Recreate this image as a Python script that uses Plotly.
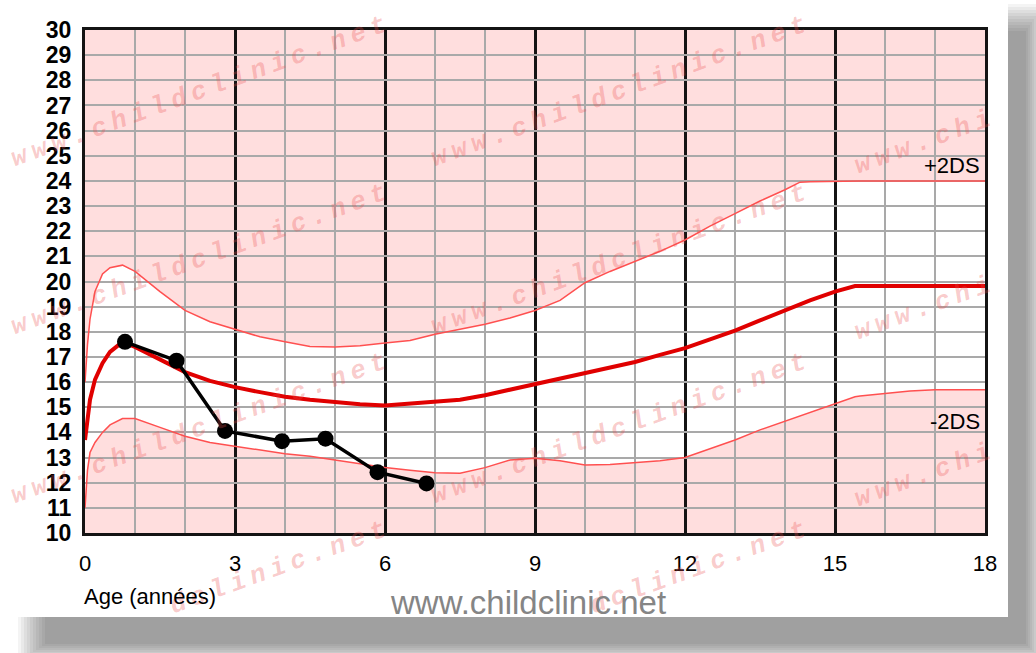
import math
import plotly.graph_objects as go

# ---------------- data ----------------
ages = [0, 0.05, 0.1, 0.2, 0.35, 0.5, 0.75, 1.0, 1.5, 2, 2.5, 3, 3.5, 4, 4.5, 5, 5.5, 6,
        6.5, 7, 7.5, 8, 8.5, 9, 9.5, 10, 10.5, 11, 11.5, 12, 12.5, 13, 13.5, 14, 14.3,
        14.5, 15, 15.4, 15.5, 16, 16.5, 17, 17.5, 18]

median = [13.7, 14.6, 15.3, 16.1, 16.75, 17.2, 17.6, 17.4, 16.9, 16.4, 16.05, 15.8, 15.6,
          15.42, 15.3, 15.2, 15.12, 15.07, 15.15, 15.22, 15.3, 15.48, 15.7, 15.9, 16.1,
          16.32, 16.55, 16.8, 17.08, 17.35, 17.7, 18.05, 18.45, 18.85, 19.08, 19.25, 19.6,
          19.82, 19.82, 19.82, 19.82, 19.82, 19.82, 19.82]

upper = [16.0, 17.5, 18.5, 19.6, 20.3, 20.55, 20.65, 20.4, 19.6, 18.85, 18.4, 18.1, 17.8,
         17.6, 17.42, 17.4, 17.45, 17.55, 17.65, 17.9, 18.1, 18.3, 18.55, 18.85, 19.25,
         19.95, 20.4, 20.8, 21.2, 21.65, 22.2, 22.7, 23.2, 23.65, 23.95, 23.97, 24.0,
         24.0, 24.0, 24.0, 24.0, 24.0, 24.0, 24.0]

lower = [11.0, 12.5, 13.2, 13.6, 14.0, 14.3, 14.55, 14.55, 14.2, 13.85, 13.6, 13.45, 13.3,
         13.15, 13.05, 12.9, 12.75, 12.6, 12.5, 12.4, 12.38, 12.6, 12.9, 12.97, 12.87,
         12.7, 12.72, 12.8, 12.87, 13.0, 13.35, 13.7, 14.1, 14.45, 14.65, 14.8, 15.15,
         15.42, 15.45, 15.55, 15.65, 15.7, 15.7, 15.7]

child_age = [0.8, 1.83, 2.8, 3.94, 4.81, 5.85, 6.83]
child_bmi = [17.6, 16.85, 14.06, 13.65, 13.75, 12.42, 11.97]

x_ticks = [0, 3, 6, 9, 12, 15, 18]
y_ticks = list(range(10, 31))

# ---------------- layout geometry ----------------
W, H = 1036, 653
ML, MR, MT, MB = 85, 51, 30, 120
PW, PH = W - ML - MR, H - MT - MB


def px2x(px):
    return (px - ML) / PW


def py2y(py):
    return (H - MB - py) / PH


fig = go.Figure()

# band between -2DS and +2DS (white), drawn below the grid
path = "M " + " L ".join(f"{a},{u}" for a, u in zip(ages, upper))
path += " L " + " L ".join(f"{a},{l}" for a, l in zip(reversed(ages), reversed(lower))) + " Z"
shapes = [dict(type="path", path=path, xref="x", yref="y", fillcolor="white",
               line=dict(width=0), layer="below")]

# soft drop shadow of the card (only the parts outside the card)
card_r, card_b = 1008, 617
for i in range(10):
    x0, y0, x1, y1 = 18 + i * 3, 4 + i * 3, 1044 - i * 2, 662 - i * 2
    col = "rgba(0,0,0,0.042)"
    shapes.append(dict(type="rect", xref="paper", yref="paper",
                       x0=px2x(max(x0, card_r)), x1=px2x(x1), y0=py2y(y0), y1=py2y(y1),
                       fillcolor=col, line=dict(width=0), layer="below"))
    shapes.append(dict(type="rect", xref="paper", yref="paper",
                       x0=px2x(x0), x1=px2x(min(x1, card_r)), y0=py2y(max(y0, card_b)), y1=py2y(y1),
                       fillcolor=col, line=dict(width=0), layer="below"))

fig.add_trace(go.Scatter(x=ages, y=upper, mode="lines", line=dict(color="#ff5050", width=1.5),
                         hoverinfo="skip", showlegend=False))
fig.add_trace(go.Scatter(x=ages, y=lower, mode="lines", line=dict(color="#ff5050", width=1.5),
                         hoverinfo="skip", showlegend=False))
fig.add_trace(go.Scatter(x=ages, y=median, mode="lines", line=dict(color="#e00000", width=4),
                         hoverinfo="skip", showlegend=False))
fig.add_trace(go.Scatter(x=child_age, y=child_bmi, mode="lines+markers",
                         line=dict(color="black", width=3.5),
                         marker=dict(color="black", size=16), showlegend=False))

annotations = []
# watermark
wm_font = dict(family="Liberation Mono", size=26, color="rgba(235,80,80,0.30)",
               style="italic", weight="bold")
ang = 20
step = 21.2
dx, dy = math.cos(math.radians(ang)), -math.sin(math.radians(ang))


def wm(text, sx, sy, first_idx, n):
    mid = first_idx + n / 2.0
    cx, cy = sx + mid * step * dx, sy + mid * step * dy
    return dict(text=f'<span style="letter-spacing:5.6px">{text}</span>',
                x=px2x(cx), y=py2y(cy), xref="paper", yref="paper",
                xanchor="center", yanchor="middle",
                showarrow=False, textangle=-ang, font=wm_font)


full = "www.childclinic.net"
for sx in (12, 432):
    for sy in (160, 328, 497):
        annotations.append(wm(full, sx, sy, 0, len(full)))
    annotations.append(wm(full[8:], sx, 665, 8, len(full) - 8))
for sy in (167, 333, 500):
    annotations.append(wm(full[:7], 855, sy, 0, 7))

annotations += [
    dict(text="+2DS", x=17.93, y=24.62, xref="x", yref="y", xanchor="right", yanchor="middle",
         showarrow=False, font=dict(family="Liberation Sans", size=22, color="black")),
    dict(text="-2DS", x=17.93, y=14.45, xref="x", yref="y", xanchor="right", yanchor="middle",
         showarrow=False, font=dict(family="Liberation Sans", size=22, color="black")),
    dict(text="Age (années)", x=px2x(82), y=py2y(596), xref="paper", yref="paper",
         xanchor="left", yanchor="middle", showarrow=False,
         font=dict(family="Liberation Sans", size=22, color="black")),
    dict(text="www.childclinic.net", x=px2x(528), y=py2y(602), xref="paper", yref="paper",
         xanchor="center", yanchor="middle", showarrow=False,
         font=dict(family="Liberation Sans", size=33, color="#858585")),
]

fig.update_layout(
    width=W, height=H,
    margin=dict(l=ML, r=MR, t=MT, b=MB, pad=0),
    paper_bgcolor="white",
    plot_bgcolor="#ffdede",
    shapes=shapes,
    annotations=annotations,
    showlegend=False,
    xaxis=dict(range=[0, 18], tickvals=x_ticks, ticktext=[str(v) for v in x_ticks],
               showgrid=True, gridcolor="#141414", gridwidth=3,
               minor=dict(dtick=1, showgrid=True, gridcolor="#a9a9a9", gridwidth=2),
               showline=True, linecolor="#141414", linewidth=3, mirror=True,
               zeroline=False, ticks="", ticklabelstandoff=9,
               tickfont=dict(family="Liberation Sans", size=22, color="black"),
               fixedrange=True),
    yaxis=dict(range=[10, 30], tickvals=y_ticks, ticktext=[str(v) for v in y_ticks],
               showgrid=True, gridcolor="#a9a9a9", gridwidth=2,
               showline=True, linecolor="#141414", linewidth=3, mirror=True,
               zeroline=False, ticks="", ticklabelstandoff=6,
               tickfont=dict(family="Liberation Sans", size=23, color="black", weight="bold"),
               fixedrange=True),
)

fig.write_html("out.html", config={"displayModeBar": False},
               post_script="document.body.style.margin='0';document.body.style.overflow='hidden';")
